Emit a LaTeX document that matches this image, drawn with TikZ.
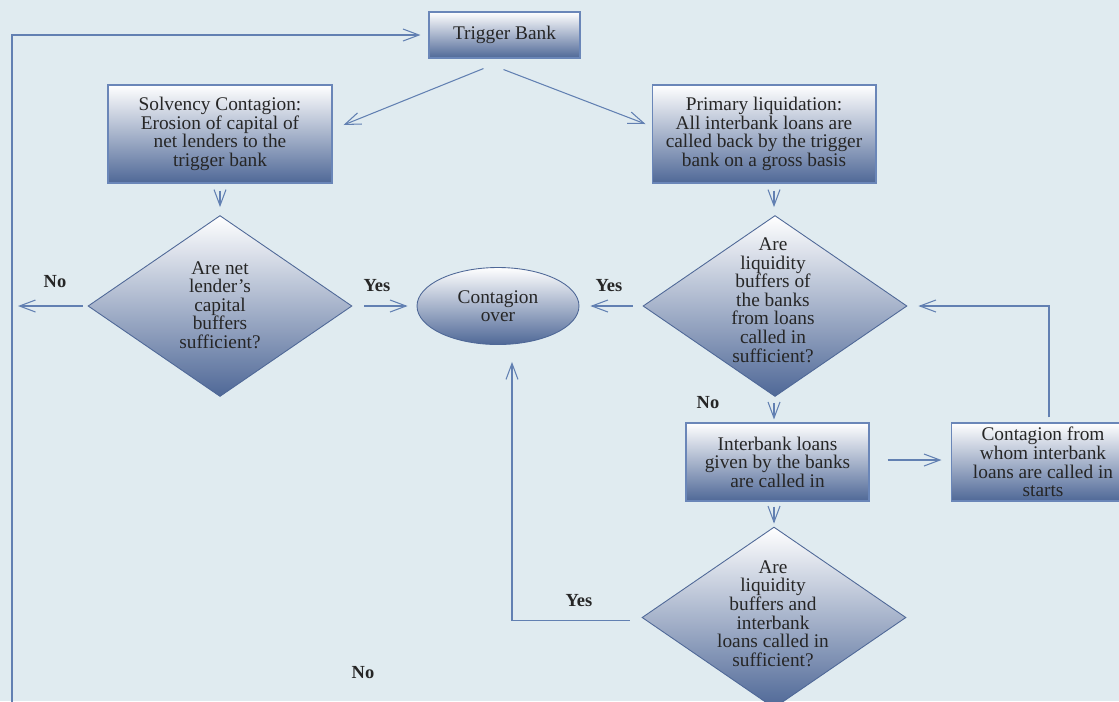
\documentclass[tikz,border=0pt]{standalone}
\usepackage{fontspec}
\setmainfont{Liberation Serif}
\usepackage{tikz}
\usetikzlibrary{arrows.meta, shapes.geometric}
\definecolor{bgblue}{HTML}{E0EBF0}
\definecolor{lineblue}{HTML}{6280B2}
\definecolor{edgeblue}{HTML}{6A86B8}
\definecolor{deepblue}{HTML}{4F6897}
\definecolor{inkgray}{HTML}{262626}

\tikzset{
  procbox/.style={rectangle, draw=edgeblue, line width=0.6pt, top color=white, bottom color=deepblue,
    inner sep=0pt, align=center, text=inkgray, font=\fontsize{11}{10.6}\selectfont},
  decision/.style={diamond, draw=deepblue, line width=0.5pt, top color=white, bottom color=deepblue,
    minimum width=5.28cm, minimum height=3.62cm, inner sep=0pt},
  qtext/.style={align=center, inner sep=0pt, text=inkgray, font=\fontsize{11}{10.6}\selectfont},
  answer/.style={text=inkgray, font=\fontsize{10.5}{12}\selectfont\bfseries},
  flow/.style={draw=lineblue, line width=0.6pt, -{Straight Barb[length=0.32cm, width=0.24cm]}}
}

\begin{document}
\begin{tikzpicture}[x=0.02cm, y=-0.02cm]
  \useasboundingbox (0,0) rectangle (1119,701);
  \clip (0,0) rectangle (1119,701);
  \fill[bgblue] (0,0) rectangle (1119,701);

  % boxes
  \node[procbox, minimum width=3.02cm, minimum height=0.92cm] (trig) at (504.5,35) {Trigger Bank};
  \node[procbox, minimum width=4.48cm, minimum height=1.96cm] (solv) at (220,134)
    {Solvency Contagion:\\Erosion of capital of\\net lenders to the\\trigger bank};
  \node[procbox, minimum width=4.48cm, minimum height=1.96cm] (prim) at (764,134)
    {Primary liquidation:\\All interbank loans are\\called back by the trigger\\bank on a gross basis};
  \node[procbox, minimum width=3.66cm, minimum height=1.56cm] (ib) at (777.5,462)
    {Interbank loans\\given by the banks\\are called in};
  \node[procbox, minimum width=3.68cm, minimum height=1.56cm] (cf) at (1043,462)
    {Contagion from\\whom interbank\\loans are called in\\starts};

  % decisions
  \node[decision] (d1) at (220,306) {};
  \node[qtext] (d1t) at (220,305) {Are net\\lender's\\capital\\buffers\\sufficient?};
  \node[decision] (d2) at (775,306) {};
  \node[qtext] (d2t) at (773,300) {Are\\liquidity\\buffers of\\the banks\\from loans\\called in\\sufficient?};
  \node[decision] (d3) at (774,617.5) {};
  \node[qtext] (d3t) at (773,613.5) {Are\\liquidity\\buffers and\\interbank\\loans called in\\sufficient?};

  \node[ellipse, draw=deepblue, line width=0.5pt, top color=white, bottom color=deepblue,
    minimum width=3.24cm, minimum height=1.54cm, inner sep=0pt, qtext] (ell) at (498,306) {Contagion\\over};

  \coordinate (bot) at (12,720);
  \coordinate (lft) at (12,306);

  % connectors
  \draw[flow] (bot) |- ([shift={(-8,0)}]trig.west);
  \draw[flow] ([shift={(-21,10)}]trig.south) -- ([shift={(11,-9)}]solv.east);
  \draw[flow] ([shift={(-1,11)}]trig.south) -- ([shift={(-6,-10)}]prim.west);
  \draw[flow] ([shift={(0,7)}]solv.south) -- ([shift={(0,-8)}]d1.north);
  \draw[flow] ([shift={(-5,0)}]d1.west) -- ([shift={(6,0)}]lft);
  \draw[flow] ([shift={(12,0)}]d1.east) -- ([shift={(-9,0)}]ell.west);
  \draw[flow] ([shift={(-10,0)}]d2.west) -- ([shift={(11,0)}]ell.east);
  \draw[flow] ([shift={(10,7)}]prim.south) -- ([shift={(-1,-8)}]d2.north);
  \draw[flow] ([shift={(-1,6)}]d2.south) -- ([shift={(-3.5,-3)}]ib.north);
  \draw[flow] ([shift={(18,-2)}]ib.east) -- ([shift={(-9,-2)}]cf.west);
  \draw[flow] ([shift={(6,-5)}]cf.north) |- ([shift={(11,0)}]d2.east);
  \draw[flow] ([shift={(-3.5,5)}]ib.south) -- ([shift={(0,-3)}]d3.north);
  \draw[flow] ([shift={(-12,3)}]d3.west) -| ([shift={(14,17)}]ell.south);

  % answers
  \node[answer] (no1) at (55,282) {No};
  \node[answer] (yes1) at (377,286) {Yes};
  \node[answer] (yes2) at (609,286) {Yes};
  \node[answer] (no2) at (708,403) {No};
  \node[answer] (yes3) at (579,601) {Yes};
  \node[answer] (no3) at (363,673) {No};
\end{tikzpicture}
\end{document}
